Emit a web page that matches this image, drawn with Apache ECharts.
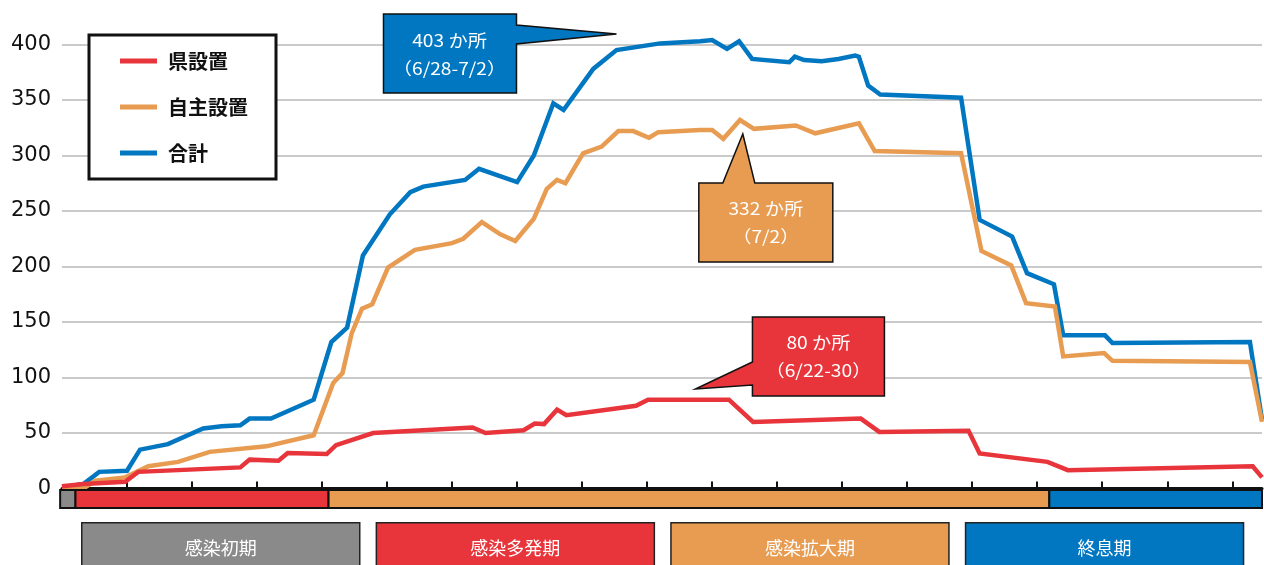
<!DOCTYPE html>
<html><head><meta charset="utf-8">
<script src="https://cdn.jsdelivr.net/npm/echarts@6/dist/echarts.min.js"></script>
<style>html,body{margin:0;padding:0;background:#fff}#c{width:1264px;height:565px}</style>
</head><body><div id="c"></div>
<script>
// ---- data ----
const seriesNames = ['県設置', '自主設置', '合計'];

// x = days since 4/20 (weekly ticks)
const prefDays   = [0, 2.3, 6.8, 8.2, 19.2, 20.2, 23.3, 24.3, 28.5, 29.5, 33.5, 44.2, 45.6, 49.7, 50.9, 51.9, 53.3, 54.3, 61.8, 63.1, 71.8, 74.4, 86.0, 88.0, 97.6, 98.8, 106.1, 108.3, 128.2, 129.2];
const prefValues = [2, 4, 6, 15, 19, 26, 25, 32, 31, 39, 50, 55, 50, 52.5, 58.5, 58, 71, 66, 74.5, 80, 80, 60, 63, 51, 52, 31.5, 24, 16.5, 20, 10];

const selfDays   = [0, 2.3, 3.6, 6.8, 9.3, 12.5, 15.9, 22.0, 27.1, 29.2, 30.2, 31.2, 32.3, 33.4, 35.1, 38.0, 42.0, 43.2, 45.2, 47.2, 48.8, 50.8, 52.2, 53.3, 54.2, 56.1, 58.1, 59.9, 61.5, 63.2, 64.2, 68.7, 70.0, 71.2, 73.0, 74.5, 79.0, 81.1, 85.8, 87.5, 96.8, 99.0, 102.2, 103.8, 106.9, 107.8, 112.2, 113.1, 127.9, 129.2];
const selfValues = [0, 0, 7, 10, 20, 24, 33, 38, 48, 95, 104, 140, 162, 166, 199, 215, 221, 225, 240, 229, 223, 243, 270, 278, 275, 302, 308, 322, 322, 316, 321, 323, 323, 315, 332, 324, 327, 320, 329, 304, 302, 214, 201, 167, 164, 119, 122, 115, 114, 60];

const totalDays   = [0, 2.3, 4.0, 7.0, 8.4, 11.4, 15.2, 17.2, 19.2, 20.2, 22.5, 27.1, 29.0, 30.7, 32.4, 35.3, 37.5, 38.9, 43.4, 44.9, 49.0, 50.8, 52.9, 54.0, 57.2, 59.7, 64.4, 68.7, 70.0, 71.6, 72.9, 74.3, 78.3, 78.9, 79.9, 81.8, 83.6, 85.4, 85.8, 86.8, 88.1, 96.8, 98.8, 102.3, 103.9, 106.8, 107.8, 112.3, 113.1, 127.9, 129.2];
const totalValues = [1, 4, 15, 16, 35, 40, 54, 56, 57, 63, 63, 80, 132, 145, 210, 247, 267, 272, 278, 288, 276, 300, 347, 341, 378, 395, 401, 403, 404, 396, 403, 387, 384, 389, 386, 385, 387, 390, 389, 363, 355, 352, 242, 227, 194, 184, 138, 138, 131, 132, 62];

const yTicks = [0, 50, 100, 150, 200, 250, 300, 350, 400];
const weekTicks = [7, 14, 21, 28, 35, 42, 49, 56, 63, 70, 77, 84, 91, 98, 105, 112, 119, 126];

const phaseNames = ['感染初期', '感染多発期', '感染拡大期', '終息期'];
const phaseStart = [-0.2, 1.45, 28.7, 106.3];
const phaseEnd   = [1.45, 28.7, 106.3, 129.2];

const calloutLine1 = ['403 か所', '332 か所', '80 か所'];
const calloutLine2 = ['（6/28-7/2）', '（7/2）', '（6/22-30）'];
const calloutDays   = [59.7, 73.3, 68.2];
const calloutValues = [409.5, 319.4, 89.6];

// ---- styles ----
const colors = ['#E8353B', '#E89C52', '#0077C0'];
const phaseColors = ['#8A8A8A', '#E8353B', '#E89C52', '#0077C0'];
const calloutColors = ['#0077C0', '#E89C52', '#E8353B'];
const JP = '"Noto Sans CJK JP", "Noto Sans", sans-serif';

// callout geometry relative to the tip (px)
const calloutShapes = [
  { pts: [[-233,-20],[-100,-20],[-100,-9],[0,0],[-100,10],[-100,59],[-233,59]], tx: -167, ty: 21 },
  { pts: [[-44,49],[-20,49],[0,0],[12,49],[90,49],[90,128],[-44,128]], tx: 23, ty: 89 },
  { pts: [[57,-72],[189,-72],[189,7],[57,7],[57,-4],[0,0],[57,-27]], tx: 123, ty: -32 }
];

const zip = (a, b) => a.map((d, i) => [d, b[i]]);

const chart = echarts.init(document.getElementById('c'));
const lineCommon = (name, i, days, vals, z) => ({
  name, type: 'line', data: zip(days, vals), showSymbol: false, symbol: 'none',
  color: colors[i], z, clip: false,
  lineStyle: { width: 4.5, color: colors[i], join: 'miter' }, animation: false
});

const option = {
  animation: false,
  backgroundColor: '#fff',
  grid: { left: 62, right: 2, top: 44.5, bottom: 76.5 },
  legend: {
    orient: 'vertical', left: 89, top: 35, data: seriesNames, icon: 'rect',
    itemWidth: 37, itemHeight: 5, itemGap: 20, padding: [13, 28, 13, 31],
    borderColor: '#111', borderWidth: 3, backgroundColor: '#fff', z: 20,
    selectedMode: false,
    textStyle: { fontSize: 20, fontWeight: 'bold', color: '#111', fontFamily: JP, lineHeight: 26, padding: [0, 0, 0, 6] }
  },
  xAxis: {
    type: 'value', min: 0, max: 129.2,
    axisLine: { show: true, lineStyle: { color: '#111', width: 3 } },
    axisTick: { show: true, inside: true, length: 7, customValues: weekTicks, lineStyle: { color: '#111', width: 2 } },
    axisLabel: { show: false },
    splitLine: { show: false }
  },
  yAxis: {
    type: 'value', min: yTicks[0], max: yTicks[yTicks.length - 1], interval: 50,
    axisLine: { show: false }, axisTick: { show: false },
    axisLabel: { fontSize: 21, color: '#111', margin: 11, fontFamily: '"DejaVu Sans", sans-serif' },
    splitLine: { lineStyle: { color: '#b8b8b8', width: 1.6 } }
  },
  series: [
    lineCommon(seriesNames[2], 2, totalDays, totalValues, 3),
    lineCommon(seriesNames[1], 1, selfDays, selfValues, 4),
    lineCommon(seriesNames[0], 0, prefDays, prefValues, 5),
    {
      type: 'custom', name: 'phase', clip: false, z: 6, silent: true,
      data: phaseStart.map((s, i) => [s, phaseEnd[i], 0, i]),
      encode: { x: [0, 1], y: 2 },
      renderItem: (params, api) => {
        const s = api.coord([api.value(0), 0]);
        const e = api.coord([api.value(1), 0]);
        return { type: 'rect', shape: { x: s[0], y: s[1] + 1.5, width: e[0] - s[0], height: 18 },
          style: { fill: phaseColors[api.value(3)], stroke: '#111', lineWidth: 2 } };
      }
    },
    {
      type: 'custom', name: 'callouts', clip: false, z: 10, silent: true,
      data: calloutDays.map((d, i) => [d, calloutValues[i], i]),
      encode: { x: 0, y: 1 },
      renderItem: (params, api) => {
        const i = api.value(2);
        const tip = api.coord([api.value(0), api.value(1)]);
        const sh = calloutShapes[i];
        return { type: 'group', children: [
          { type: 'polygon', shape: { points: sh.pts.map(p => [tip[0] + p[0], tip[1] + p[1]]) },
            style: { fill: calloutColors[i], stroke: '#111', lineWidth: 1.5 } },
          { type: 'text', x: tip[0] + sh.tx, y: tip[1] + sh.ty, scaleX: 1.13,
            style: { text: calloutLine1[i] + '\n' + calloutLine2[i], fill: '#fff', font: '17px ' + JP,
              align: 'center', verticalAlign: 'middle', lineHeight: 28 } }
        ] };
      }
    }
  ],
  graphic: phaseNames.map((n, i) => ({
    type: 'group', left: 81 + i * 294.6, top: 522,
    children: [
      { type: 'rect', shape: { x: 0, y: 0, width: 278, height: 50 }, style: { fill: phaseColors[i], stroke: '#222', lineWidth: 1.5 } },
      { type: 'text', x: 139, y: 25, style: { text: n, fill: '#fff', font: '18px ' + JP, align: 'center', verticalAlign: 'middle' } }
    ]
  }))
};
chart.setOption(option);
</script>
</body></html>
